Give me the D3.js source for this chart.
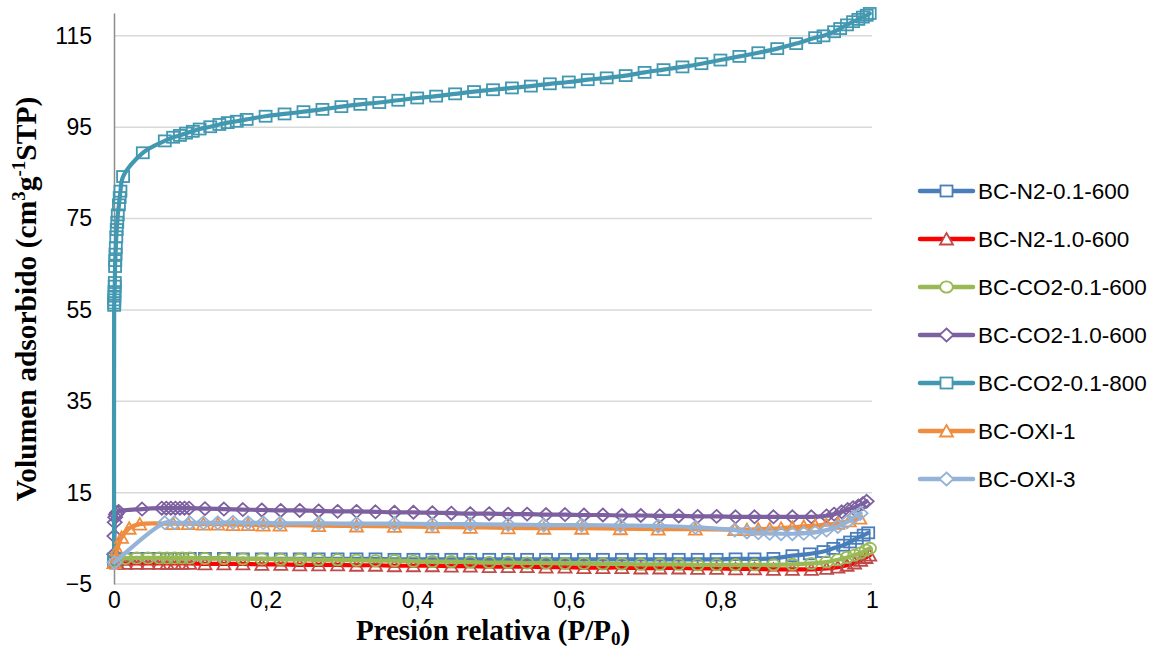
<!DOCTYPE html>
<html>
<head>
<meta charset="utf-8">
<script src="https://cdn.jsdelivr.net/npm/d3@7"></script>
<style>
  body { margin: 0; background: #fff; }
  svg { display: block; }
</style>
</head>
<body>
<svg id="chart" width="1158" height="649"></svg>
<script>
// ---- data: nitrogen adsorption isotherms, [P/P0, volume adsorbed] ----
const xTicks = [0, 0.2, 0.4, 0.6, 0.8, 1];
const xTickLabels = ["0", "0,2", "0,4", "0,6", "0,8", "1"];
const yTicks = [-5, 15, 35, 55, 75, 95, 115];

const seriesNames = ["BC-N2-0.1-600", "BC-N2-1.0-600", "BC-CO2-0.1-600", "BC-CO2-1.0-600", "BC-CO2-0.1-800", "BC-OXI-1", "BC-OXI-3"];

const bcN2_01_600 = [[0.0003,0.0],[0.004,0.3],[0.015,0.5],[0.03,0.6],[0.045,0.6],[0.06,0.6],[0.07,0.6],[0.08,0.6],[0.09,0.6],[0.1,0.6],[0.12,0.6],[0.145,0.6],[0.17,0.5],[0.195,0.5],[0.22,0.5],[0.245,0.5],[0.27,0.5],[0.295,0.5],[0.32,0.5],[0.345,0.5],[0.37,0.4],[0.395,0.4],[0.42,0.4],[0.445,0.4],[0.47,0.4],[0.495,0.4],[0.52,0.4],[0.545,0.4],[0.57,0.4],[0.595,0.4],[0.62,0.4],[0.645,0.4],[0.67,0.4],[0.695,0.4],[0.72,0.4],[0.745,0.4],[0.77,0.4],[0.795,0.4],[0.82,0.5],[0.845,0.5],[0.87,0.6],[0.895,1.2],[0.918,1.6],[0.936,2.1],[0.949,2.8],[0.962,3.5],[0.971,4.2],[0.98,5.0],[0.989,5.7],[0.995,6.2]];

const bcN2_10_600 = [[0.0003,-0.3],[0.004,-0.4],[0.015,-0.5],[0.03,-0.5],[0.045,-0.5],[0.06,-0.5],[0.07,-0.5],[0.08,-0.5],[0.09,-0.5],[0.1,-0.5],[0.12,-0.6],[0.145,-0.6],[0.17,-0.6],[0.195,-0.7],[0.22,-0.7],[0.245,-0.8],[0.27,-0.8],[0.295,-0.8],[0.32,-0.9],[0.345,-0.9],[0.37,-1.0],[0.395,-1.0],[0.42,-1.0],[0.445,-1.1],[0.47,-1.1],[0.495,-1.2],[0.52,-1.2],[0.545,-1.2],[0.57,-1.3],[0.595,-1.3],[0.62,-1.4],[0.645,-1.4],[0.67,-1.4],[0.695,-1.5],[0.72,-1.5],[0.745,-1.5],[0.77,-1.6],[0.795,-1.6],[0.82,-1.7],[0.845,-1.7],[0.87,-1.8],[0.895,-1.8],[0.92,-1.8],[0.94,-1.6],[0.955,-1.3],[0.967,-0.9],[0.977,-0.4],[0.985,0.2],[0.992,0.8],[0.997,1.3]];

const bcCO2_01_600 = [[0.0003,0.0],[0.004,0.4],[0.015,0.6],[0.03,0.7],[0.045,0.7],[0.06,0.7],[0.07,0.7],[0.08,0.7],[0.09,0.7],[0.1,0.7],[0.12,0.6],[0.145,0.6],[0.17,0.5],[0.195,0.5],[0.22,0.4],[0.245,0.4],[0.27,0.3],[0.295,0.3],[0.32,0.2],[0.345,0.1],[0.37,0.1],[0.395,0.0],[0.42,-0.1],[0.445,-0.1],[0.47,-0.2],[0.495,-0.3],[0.52,-0.3],[0.545,-0.4],[0.57,-0.4],[0.595,-0.5],[0.62,-0.5],[0.645,-0.6],[0.67,-0.6],[0.695,-0.7],[0.72,-0.7],[0.745,-0.7],[0.77,-0.8],[0.795,-0.8],[0.82,-0.8],[0.845,-0.8],[0.87,-0.8],[0.895,-0.7],[0.92,-0.5],[0.94,-0.2],[0.955,0.3],[0.967,0.8],[0.977,1.3],[0.985,1.8],[0.992,2.4],[0.997,2.8]];

const bcCO2_10_600 = [[0.0002,1.5],[0.0005,5.5],[0.001,8.5],[0.0016,9.6],[0.0025,10.2],[0.004,10.6],[0.006,10.9],[0.037,11.4],[0.063,11.6],[0.069,11.6],[0.075,11.6],[0.081,11.6],[0.087,11.6],[0.093,11.6],[0.099,11.6],[0.12,11.5],[0.145,11.4],[0.17,11.3],[0.195,11.2],[0.22,11.1],[0.245,11.1],[0.27,11.0],[0.295,10.9],[0.32,10.9],[0.345,10.8],[0.37,10.7],[0.395,10.7],[0.42,10.6],[0.445,10.5],[0.47,10.4],[0.495,10.4],[0.52,10.3],[0.545,10.3],[0.57,10.2],[0.595,10.2],[0.62,10.1],[0.645,10.1],[0.67,10.0],[0.695,10.0],[0.72,9.9],[0.745,9.9],[0.77,9.8],[0.795,9.8],[0.82,9.7],[0.845,9.7],[0.87,9.7],[0.895,9.7],[0.92,9.7],[0.94,9.9],[0.95,10.3],[0.96,10.8],[0.968,11.3],[0.975,11.7],[0.982,12.1],[0.988,12.6],[0.993,13.1]];

const bcCO2_01_800 = [[0.0001,0.5],[0.0002,56.0],[0.0003,56.5],[0.0004,57.2],[0.0005,58.0],[0.0007,59.0],[0.0009,60.2],[0.0011,61.0],[0.0014,64.5],[0.0017,65.8],[0.002,67.2],[0.0024,68.6],[0.003,71.0],[0.0036,72.6],[0.0043,74.2],[0.005,75.8],[0.0065,78.0],[0.0075,79.6],[0.0085,81.0],[0.012,84.2],[0.038,89.4],[0.067,92.0],[0.078,92.8],[0.087,93.2],[0.095,93.7],[0.104,94.1],[0.113,94.6],[0.127,95.1],[0.139,95.6],[0.15,96.0],[0.162,96.3],[0.175,96.7],[0.2,97.4],[0.225,97.9],[0.25,98.4],[0.275,98.9],[0.3,99.5],[0.325,100.0],[0.35,100.4],[0.375,100.9],[0.4,101.4],[0.425,101.8],[0.45,102.3],[0.475,102.8],[0.5,103.2],[0.525,103.6],[0.55,104.0],[0.575,104.5],[0.6,104.9],[0.625,105.4],[0.65,105.8],[0.675,106.3],[0.7,107.0],[0.725,107.6],[0.75,108.2],[0.775,108.9],[0.8,109.7],[0.825,110.5],[0.85,111.3],[0.875,112.2],[0.9,113.3],[0.925,114.6],[0.936,115.0],[0.95,115.9],[0.958,116.6],[0.967,117.4],[0.975,118.1],[0.982,118.6],[0.988,119.1],[0.993,119.5],[0.997,119.9]];

const bcOXI_1 = [[0.0003,-0.3],[0.004,2.5],[0.01,5.2],[0.02,7.2],[0.034,8.1],[0.078,8.2],[0.098,8.2],[0.118,8.1],[0.137,8.1],[0.157,8.0],[0.177,8.0],[0.197,7.9],[0.219,7.9],[0.27,7.8],[0.32,7.7],[0.37,7.6],[0.42,7.5],[0.47,7.4],[0.52,7.3],[0.567,7.2],[0.617,7.2],[0.668,7.1],[0.718,7.0],[0.767,7.0],[0.819,6.9],[0.835,6.9],[0.85,7.0],[0.865,7.1],[0.88,7.2],[0.895,7.4],[0.91,7.6],[0.925,7.8],[0.94,8.0],[0.955,8.3],[0.97,8.8],[0.984,9.4]];

const bcOXI_3 = [[0.0005,-0.3],[0.067,8.4],[0.08,8.4],[0.1,8.4],[0.118,8.4],[0.137,8.4],[0.157,8.5],[0.177,8.4],[0.197,8.4],[0.219,8.3],[0.27,8.3],[0.32,8.2],[0.37,8.2],[0.42,8.1],[0.47,8.1],[0.52,8.0],[0.567,7.9],[0.617,7.9],[0.668,7.8],[0.718,7.7],[0.767,7.4],[0.819,6.8],[0.835,6.4],[0.85,6.2],[0.865,6.1],[0.88,6.0],[0.895,6.0],[0.91,6.1],[0.925,6.3],[0.94,6.8],[0.955,7.6],[0.967,8.6],[0.977,9.7],[0.985,10.5]];

const seriesValues = [bcN2_01_600, bcN2_10_600, bcCO2_01_600, bcCO2_10_600, bcCO2_01_800, bcOXI_1, bcOXI_3];

// ---- appearance of each series ----
const seriesStyle = [
  { line: "#4A7EBB", marker: "#4A7EBB", shape: "square" },
  { line: "#FF0000", marker: "#BE4B48", shape: "triangle" },
  { line: "#98B954", marker: "#98B954", shape: "circle" },
  { line: "#7D60A0", marker: "#7D60A0", shape: "diamond" },
  { line: "#4298B0", marker: "#4298B0", shape: "square" },
  { line: "#F08C3E", marker: "#F08C3E", shape: "triangle" },
  { line: "#95B3D7", marker: "#95B3D7", shape: "diamond" }
];

// ---- layout ----
const svg = d3.select("#chart");
const plot = { left: 114, right: 872, top: 13, bottom: 584 };
const tickFont = "'Liberation Sans', Arial, sans-serif";
const titleFont = "'Liberation Serif', 'Times New Roman', serif";

const x = d3.scaleLinear().domain([0, 1]).range([plot.left, plot.right]);
const y = d3.scaleLinear().domain([-5, 120]).range([plot.bottom, plot.top]);

// horizontal gridlines
svg.append("g")
  .selectAll("line")
  .data(yTicks)
  .join("line")
  .attr("x1", plot.left).attr("x2", plot.right)
  .attr("y1", d => y(d)).attr("y2", d => y(d))
  .attr("stroke", "#D9D9D9").attr("stroke-width", 1.5);

// y axis
const yAxis = d3.axisLeft(y).tickValues(yTicks).tickSize(0).tickPadding(22);
const gy = svg.append("g").attr("transform", `translate(${plot.left},0)`).call(yAxis);
gy.select(".domain").attr("stroke", "#8C8C8C").attr("stroke-width", 1.5);
gy.selectAll("text")
  .attr("font-family", tickFont)
  .attr("font-size", 23).attr("fill", "#000");

// x axis (labels only, below the plot)
const xAxis = d3.axisBottom(x).tickValues(xTicks).tickSize(0).tickPadding(8)
  .tickFormat((d, i) => xTickLabels[i]);
const gx = svg.append("g").attr("transform", `translate(0,${plot.bottom})`).call(xAxis);
gx.select(".domain").remove();
gx.selectAll("text")
  .attr("font-family", tickFont)
  .attr("font-size", 23).attr("fill", "#000");

// axis titles
svg.append("text")
  .attr("x", 493).attr("y", 640)
  .attr("text-anchor", "middle")
  .attr("font-family", titleFont)
  .attr("font-weight", "bold").attr("font-size", 29)
  .call(t => {
    t.append("tspan").text("Presión relativa (P/P");
    t.append("tspan").attr("font-size", 19).attr("dy", 5).text("0");
    t.append("tspan").attr("dy", -5).text(")");
  });

svg.append("text")
  .attr("transform", "translate(36,299) rotate(-90)")
  .attr("text-anchor", "middle")
  .attr("font-family", titleFont)
  .attr("font-weight", "bold").attr("font-size", 29.5)
  .call(t => {
    t.append("tspan").text("Volumen adsorbido (cm");
    t.append("tspan").attr("font-size", 19).attr("dy", -11).text("3");
    t.append("tspan").attr("dy", 11).text("g");
    t.append("tspan").attr("font-size", 19).attr("dy", -11).text("-1");
    t.append("tspan").attr("dy", 11).text("STP)");
  });

// ---- marker drawing ----
function drawMarker(sel, shape, color, fill) {
  sel.attr("fill", fill).attr("stroke", color).attr("stroke-width", 1.8);
  if (shape === "square") {
    sel.append("rect").attr("x", -6).attr("y", -5.5).attr("width", 12).attr("height", 11);
  } else if (shape === "triangle") {
    sel.append("path").attr("d", "M0,-6L6.5,5.5L-6.5,5.5Z");
  } else if (shape === "circle") {
    sel.append("ellipse").attr("rx", 6.3).attr("ry", 5.6);
  } else if (shape === "diamond") {
    sel.append("path").attr("d", "M0,-6.5L7,0L0,6.5L-7,0Z");
  }
}

const line = d3.line()
  .x(d => x(d[0]))
  .y(d => y(d[1]))
  .curve(d3.curveCatmullRom.alpha(0.5));

// ---- series: line then its markers, in order ----
seriesValues.forEach((vals, i) => {
  const st = seriesStyle[i];
  const g = svg.append("g").attr("class", "series");
  g.append("path")
    .attr("d", line(vals))
    .attr("fill", "none")
    .attr("stroke", st.line)
    .attr("stroke-width", 4.2)
    .attr("stroke-linejoin", "round")
    .attr("stroke-linecap", "round");
  g.selectAll("g.m")
    .data(vals)
    .join("g")
    .attr("class", "m")
    .attr("transform", d => `translate(${x(d[0])},${y(d[1])})`)
    .each(function () { drawMarker(d3.select(this), st.shape, st.marker, "none"); });
});

// ---- legend ----
const legend = svg.append("g");
seriesNames.forEach((name, i) => {
  const st = seriesStyle[i];
  const ly = 191 + i * 48;
  const row = legend.append("g").attr("transform", `translate(0,${ly})`);
  row.append("line")
    .attr("x1", 920).attr("x2", 973)
    .attr("stroke", st.line).attr("stroke-width", 4.5)
    .attr("stroke-linecap", "round");
  drawMarker(row.append("g").attr("transform", "translate(946.5,0)"), st.shape, st.marker, "#fff");
  row.append("text")
    .attr("x", 978).attr("y", 0).attr("dy", "0.36em")
    .attr("font-family", tickFont)
    .attr("font-size", 22.5).attr("fill", "#000")
    .text(name);
});
</script>
</body>
</html>
